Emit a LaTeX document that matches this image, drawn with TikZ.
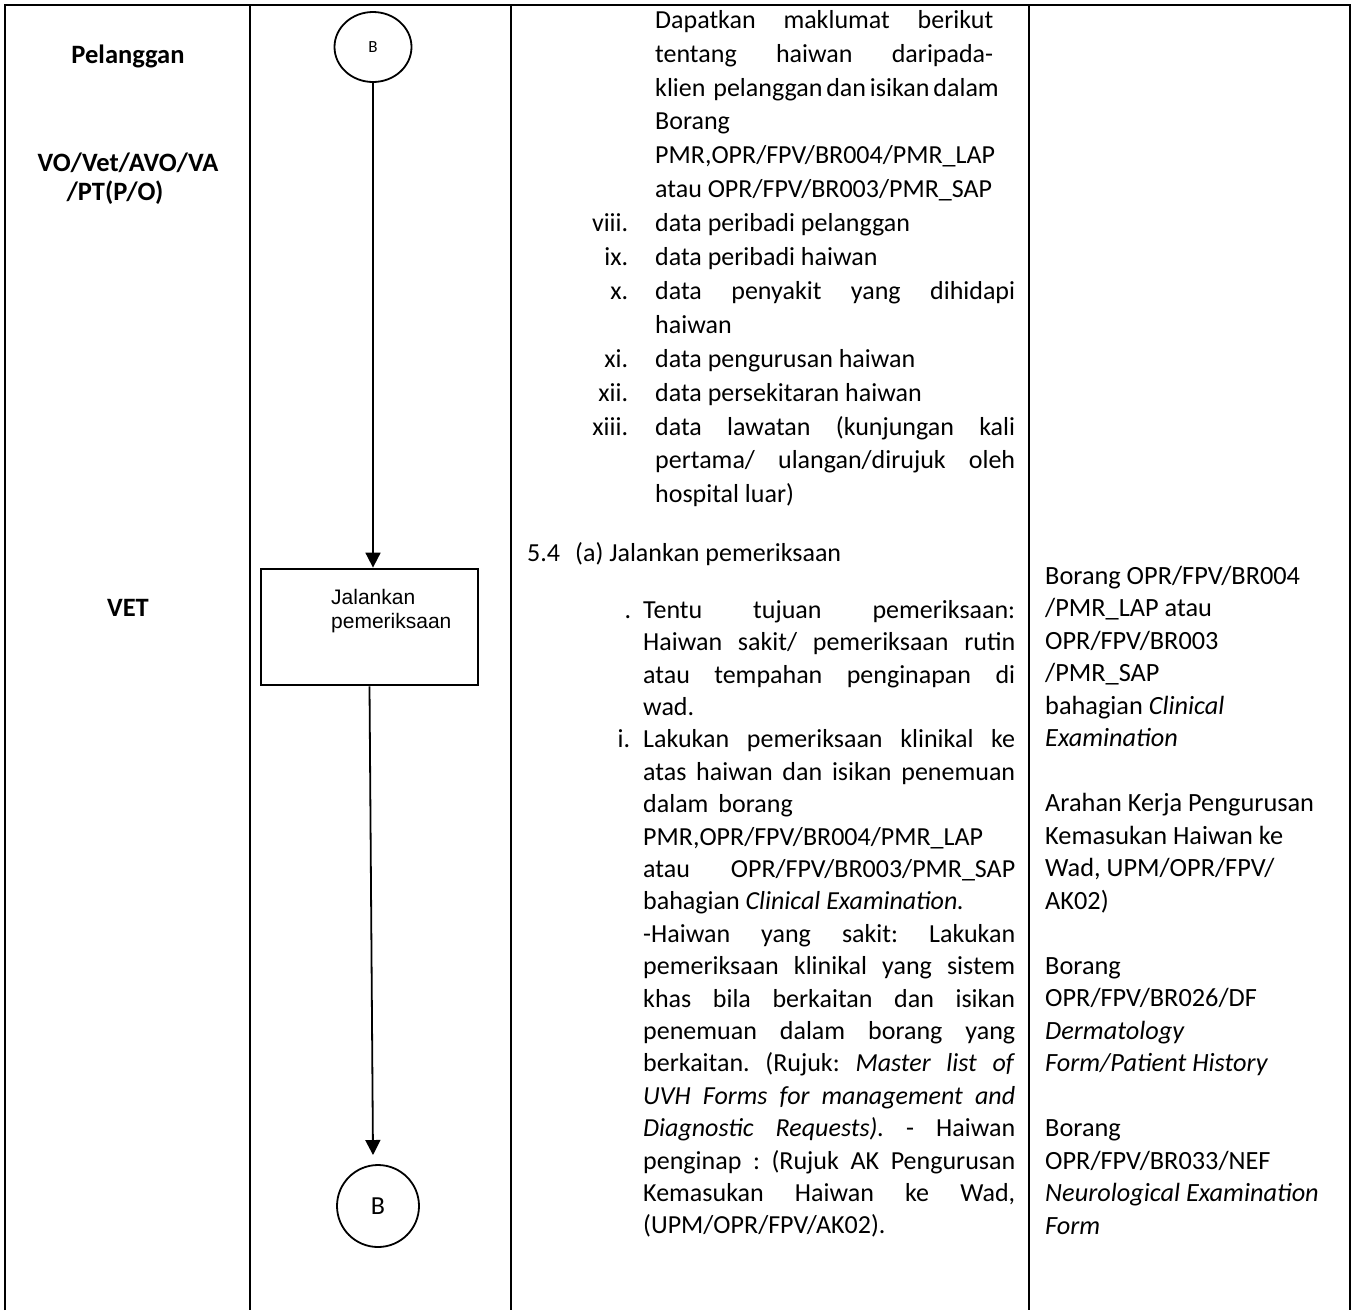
\documentclass[tikz,border=0pt]{standalone}
\usepackage{fontspec}
\setmainfont{Carlito}
\newfontfamily\boxfont{Liberation Sans}
\usetikzlibrary{arrows.meta,shapes.geometric}
\frenchspacing
\begin{document}
\begin{tikzpicture}[x=1pt,y=-1pt,
  rule/.style={line width=1.3pt},
  flow/.style={line width=1.8pt,-{Triangle[length=15pt,width=15pt]}},
  connector/.style={draw,line width=1.8pt,inner sep=0pt},
  procbox/.style={draw,line width=2.8pt,minimum width=217pt,minimum height=116pt,inner sep=0pt},
  role/.style={font={\fontsize{26.5}{31}\selectfont\bfseries},align=center,inner sep=0pt},
  para/.style={anchor=north west,inner sep=0pt,align=left},
]
\useasboundingbox (0,0) rectangle (1356,1310);
\fill[white] (0,0) rectangle (1356,1310);

% table frame, open at the bottom
\draw[rule] (5,1310) -- (5,5) -- (1350,5) -- (1350,1310);
\foreach \cx in {250,511,1029} \draw[rule] (\cx,5) -- (\cx,1310);

% responsible parties
\node[role] (pel) at (128,56) {Pelanggan};
\node[role] (vo) at (128,163) {VO/Vet/AVO/VA};
\node[role] (pt) at (115,193) {/PT(P/O)};
\node[role] (vet) at (128,608) {VET};

% flow chart
\node[connector,ellipse,minimum width=77pt,minimum height=70pt] (b1) at (373,47) {\fontsize{17}{20}\selectfont B};
\node[procbox] (exam) at (369.5,627) {};
\node[para,font={\boxfont\fontsize{21}{24}\selectfont}] (examtxt) at (331,587) {\strut Jalankan\\pemeriksaan};
\node[connector,circle,minimum size=82pt,font={\fontsize{26}{30}\selectfont}] (b2) at (378,1206) {B};
\coordinate (b2in) at (373,1155);
\draw[flow] (b1.south) -- (b1.south |- exam.north);
\draw[flow] (exam.south) -- (b2in);

% procedure text, part 1
\node[para,font={\fontsize{26}{33.9}\selectfont}] (info) at (655,4.3) {%
\strut\makebox[338pt][s]{Dapatkan maklumat berikut}\\
\makebox[338pt][s]{tentang haiwan daripada-}\\
\makebox[338pt][s]{klien\ \ pelanggan dan isikan dalam}\\
Borang\\
PMR,OPR/FPV/BR004/PMR\_LAP\\
atau OPR/FPV/BR003/PMR\_SAP\\
\llap{viii.\hspace{27pt}}data peribadi pelanggan\\
\llap{ix.\hspace{27pt}}data peribadi haiwan\\
\llap{x.\hspace{27pt}}\makebox[360pt][s]{data penyakit yang dihidapi}\\
haiwan\\
\llap{xi.\hspace{27pt}}data pengurusan haiwan\\
\llap{xii.\hspace{27pt}}data persekitaran haiwan\\
\llap{xiii.\hspace{27pt}}\makebox[360pt][s]{data lawatan (kunjungan kali}\\
\makebox[360pt][s]{pertama/ ulangan/dirujuk oleh}\\
hospital luar)};

% procedure text, part 2
\node[anchor=base west,inner sep=0pt,font={\fontsize{26}{32.4}\selectfont}] (step54) at (527,561) {\makebox[48pt][l]{5.4}(a) Jalankan pemeriksaan};
\node[para,font={\fontsize{26}{32.4}\selectfont}] (exdesc) at (643,595.3) {%
\strut\llap{.\hspace{12pt}}\makebox[372pt][s]{Tentu tujuan pemeriksaan:}\\
\makebox[372pt][s]{Haiwan sakit/ pemeriksaan rutin}\\
\makebox[372pt][s]{atau tempahan penginapan di}\\
wad.\\
\llap{i.\hspace{13pt}}\makebox[372pt][s]{Lakukan pemeriksaan klinikal ke}\\
\makebox[372pt][s]{atas haiwan dan isikan penemuan}\\
dalam\hspace{10pt}borang\\
PMR,OPR/FPV/BR004/PMR\_LAP\\
\makebox[372pt][s]{atau OPR/FPV/BR003/PMR\_SAP}\\
bahagian \textit{Clinical Examination.}\\
\makebox[372pt][s]{-Haiwan yang sakit: Lakukan}\\
\makebox[372pt][s]{pemeriksaan klinikal yang sistem}\\
\makebox[372pt][s]{khas bila berkaitan dan isikan}\\
\makebox[372pt][s]{penemuan dalam borang yang}\\
\makebox[372pt][s]{berkaitan. (Rujuk: \textit{Master list of}}\\
\makebox[372pt][s]{\textit{UVH Forms for management and}}\\
\makebox[372pt][s]{\textit{Diagnostic Requests).} - Haiwan}\\
\makebox[372pt][s]{penginap : (Rujuk AK Pengurusan}\\
\makebox[372pt][s]{Kemasukan Haiwan ke Wad,}\\
(UPM/OPR/FPV/AK02).};

% forms and references
\node[para,font={\fontsize{26.3}{32.5}\selectfont}] (forms) at (1045,561.25) {%
\strut Borang OPR/FPV/BR004\\
/PMR\_LAP atau\\
OPR/FPV/BR003\\
/PMR\_SAP\\
bahagian \textit{Clinical}\\
\textit{Examination}\\[32.5pt]
Arahan Kerja Pengurusan\\
Kemasukan Haiwan ke\\
Wad, UPM/OPR/FPV/\\
AK02)\\[32.5pt]
Borang\\
OPR/FPV/BR026/DF\\
\textit{Dermatology}\\
\textit{Form/Patient History}\\[32.5pt]
Borang\\
OPR/FPV/BR033/NEF\\
\textit{Neurological Examination}\\
\textit{Form}};
\end{tikzpicture}
\end{document}
